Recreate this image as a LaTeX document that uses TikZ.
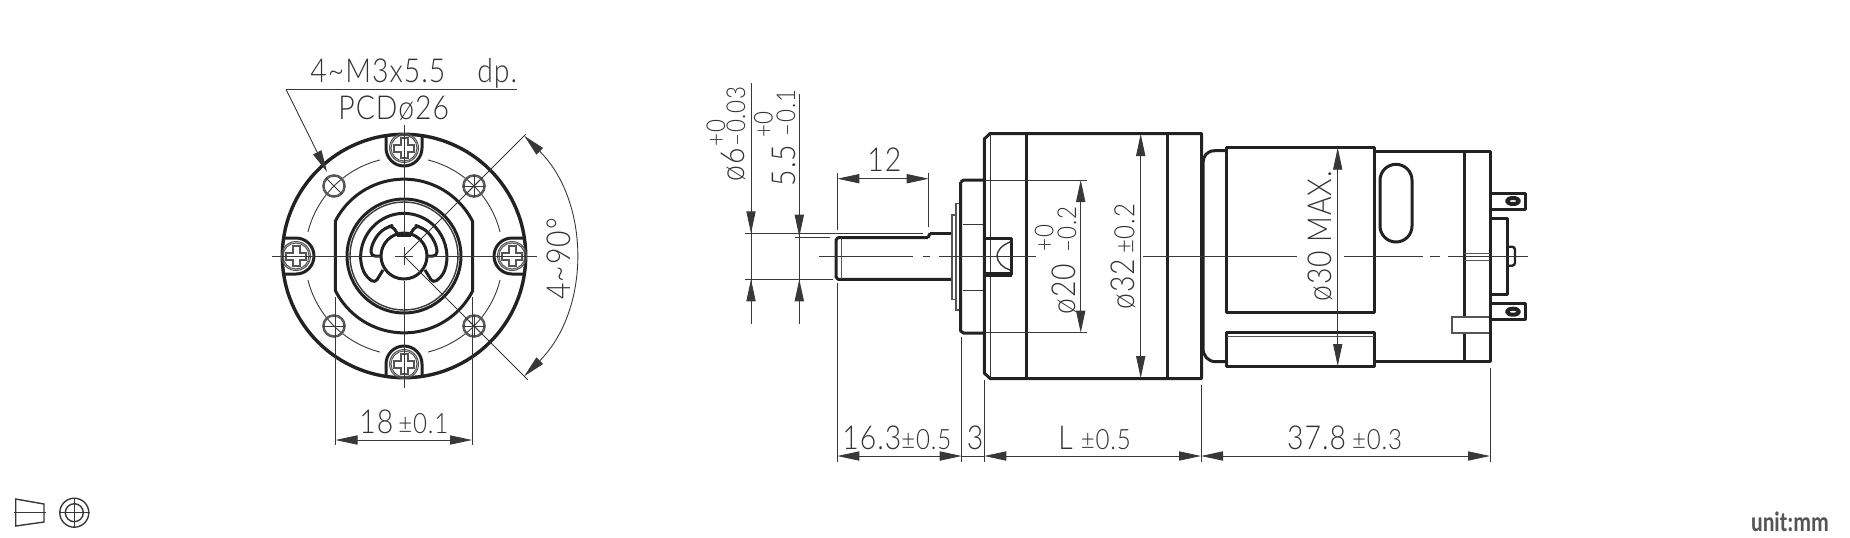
\documentclass[tikz,border=0pt]{standalone}
\usepackage{fontspec}
\usetikzlibrary{arrows.meta, calc}
\newfontfamily\cadfont[LetterSpace=3, FakeStretch=0.86]{Lato Light}
\newfontfamily\tolfont[LetterSpace=3, FakeStretch=0.86]{Lato Light}
\newfontfamily\unitfont{Carlito Bold}
\definecolor{inkline}{HTML}{222222}
\definecolor{inktext}{HTML}{333333}
\definecolor{inkgray}{HTML}{555555}
\newcommand{\tol}[1]{{\tolfont\fontsize{14}{14}\selectfont #1}}
\tikzset{
	dimtip/.tip={Triangle[length=11pt, width=4.6pt]},
	outl/.style={draw=inkline, line width=1.5pt, line join=round},
	thinl/.style={draw=inkline!90, line width=0.45pt},
	grayl/.style={draw=inkgray, line width=0.5pt},
	dimtext/.style={font=\cadfont\fontsize{16.5}{16.5}\selectfont, text=inktext, inner sep=0pt, anchor=base west},
	uptext/.style={dimtext, rotate=90},
	toltext/.style={dimtext, font=\cadfont\fontsize{13}{13}\selectfont},
	uptol/.style={toltext, rotate=90}
}
% screw head in its notch, on the rim at the given angle
\newcommand{\screwhead}[1]
{
	\begin{scope}[rotate=#1]
		\draw[outl] (-18,120.4) -- (-18,108) arc (180:360:18) -- (18,120.4);
		\draw[grayl] (0,108) circle (14.5) (0,108) circle (13);
		\draw[grayl, line width=1pt] (-3.5,118) -- (3.5,118) -- (3.5,111.5) -- (10,111.5) -- (10,104.5) -- (3.5,104.5) -- (3.5,98) -- (-3.5,98) -- (-3.5,104.5) -- (-10,104.5) -- (-10,111.5) -- (-3.5,111.5) -- cycle;
	\end{scope}
}
\begin{document}
\begin{tikzpicture}[x=0.5pt, y=0.5pt]
	\useasboundingbox (0,-537) rectangle (1850,0);
	% front view
	\begin{scope}[shift={(404,-256)}]
		\draw[outl, line width=1.7pt] (0,0) circle (121.7);
		\foreach \a in {0,90,180,270}
			\draw[thinl] (\a+14:99) arc (\a+14:\a+76:99);
		\foreach \a in {0,90,180,270}
			\screwhead{\a};
		\foreach \a in {45,135,225,315} {
			\draw[grayl, line width=0.8pt] (\a:99) circle (11);
			\draw[grayl] (\a:99) circle (9.8);
		};
		\foreach \a in {45,135,315}
			\draw[thinl] (\a:88) -- (\a:110);
		\foreach \a in {45,225,315}
			\draw[thinl] ($(\a:99)+(-11,0)$) -- ($(\a:99)+(11,0)$);
		\foreach \a in {45,315}
			\draw[thinl] ($(\a:99)+(0,-11)$) -- ($(\a:99)+(0,11)$);
		% flange with two flats
		\draw[outl] (-68.7,34.8) arc (153:27:77) -- (68.7,-34.8) arc (-27:-153:77) -- cycle;
		\draw[outl] (0,0) circle (57);
		\draw[thinl, line width=0.7pt] (0,0) circle (54);
		% clip and shaft
		\draw[outl, rounded corners=2pt] (-21,-14) -- (-29,-27) -- (-37,-21.4) arc (210:-30:42.7) -- (29,-27) -- (21,-14);
		\foreach \s in {1,-1}
			\draw[outl, xscale=\s, rounded corners=2pt] (-23,0) -- (-33,0) arc (180:118:33) -- (-12,30.5) -- (-7,23);
		\draw[outl] (0,0) circle (23);
		\draw[outl] (-7,21) -- (7,21);
		% centre lines
		\draw[thinl] (-132,0) -- (-23,0) (-9,0) -- (9,0) (23,0) -- (133,0);
		\draw[thinl] (0,131) -- (0,22) (0,-9) -- (0,9) (0,-25) -- (0,-132);
		% angle
		\draw[thinl] (0,0) -- (45:172);
		\draw[thinl] (0,0) -- (-45:175);
		\draw[thinl, dimtip-dimtip] (45:170) arc (45:-45:170);
		% width
		\draw[thinl] (-68.5,-41) -- (-68.5,-189);
		\draw[thinl] (68,-41) -- (68,-189);
		\draw[thinl, dimtip-dimtip] (-68.5,-184) -- (68,-184);
	\end{scope}
	\draw[thinl] (517.3,-89.3) -- (286,-89.3);
	\draw[thinl, -dimtip] (286,-89.3) -- (327,-172);
	\node[dimtext] (holes) at (310,-82.7) {4\textasciitilde M3x5.5\hspace{16pt}dp.};
	\node[dimtext] (pcd) at (338,-119) {PCDø26};
	\node[uptext] (angle) at (570,-300) {4\textasciitilde 90°};
	\node[dimtext] (width) at (359,-433) {18\hspace{2.5pt}\tol{±0.1}};
	% gearbox
	\draw[outl] (928,-237.7) -- (838,-237.7) -- (836,-240) -- (836,-277) -- (838,-279.3) -- (951.7,-279.3);
	\draw[outl] (930,-233.3) -- (951.7,-233.3);
	\draw[outl] (928,-237.7) -- (930,-233.3);
	\draw[grayl] (841.5,-238) -- (841.5,-279);
	\draw[grayl, line width=0.8pt] (952,-215) rectangle (956,-299.5);
	\draw[grayl, line width=0.8pt] (956,-203.5) rectangle (960.5,-310);
	\draw[outl] (960.7,-182) -- (963.5,-180) -- (984.3,-180);
	\draw[outl] (960.7,-182) -- (960.7,-331) -- (963.5,-333) -- (984.3,-333);
	\draw[thinl] (963,-224) -- (984.3,-224) (963,-290.7) -- (984.3,-290.7);
	\draw[outl] (984.3,-139) -- (990,-133.5) -- (1201.5,-133.5) -- (1201.5,-378.5) -- (990,-378.5) -- (984.3,-373) -- cycle;
	\draw[thinl] (990,-134) -- (990,-378);
	\draw[outl] (1026,-133.5) -- (1026,-378.5);
	\draw[outl] (1167.7,-133.5) -- (1167.7,-378.5);
	\draw[thinl] (985,-180) -- (1086.7,-180) (985,-332.7) -- (1086.7,-332.7);
	\draw[outl] (984.3,-238.3) -- (1011.7,-238.3) -- (1011.7,-274.3) -- (984.3,-274.3);
	\draw[outl, line width=2.2pt] (984.3,-274.3) -- (1011.7,-274.3);
	\draw[thinl, line width=0.7pt] (1010,-242) .. controls (1000,-246) and (997,-252) .. (997,-256) .. controls (997,-262) and (1003,-268) .. (1010,-270);
	% motor
	\draw[outl] (1226.7,-150.7) -- (1215,-150.7) .. controls (1207,-150.7) and (1203,-156) .. (1203,-163) -- (1203,-348) .. controls (1203,-356) and (1208,-361.7) .. (1216,-361.7) -- (1226.7,-361.7);
	\draw[outl] (1226.7,-147.7) rectangle (1374,-312.7);
	\draw[outl] (1226.7,-332) rectangle (1374,-366);
	\draw[grayl] (1227,-336.7) -- (1374,-336.7);
	\draw[outl] (1374,-151.7) -- (1490,-151.7) -- (1490,-361.7) -- (1374,-361.7);
	\draw[outl] (1464,-151.7) -- (1464,-316) (1464,-333) -- (1464,-361.7);
	\draw[grayl] (1464,-253.5) -- (1490,-253.5) (1464,-260) -- (1490,-260);
	\draw[grayl, line width=0.8pt] (1489,-316.7) -- (1451.7,-316.7) -- (1451.7,-332.7) -- (1489,-332.7);
	\draw[outl] (1380,-180.3) arc (180:0:16) -- (1412,-226) arc (360:180:16) -- cycle;
	% terminals
	\foreach \y in {0,110.7} {
		\draw[outl] (1491,-193-\y) -- (1525,-193-\y) -- (1525,-209-\y) -- (1491,-209-\y);
		\draw[outl, line width=2pt] (1513,-201-\y) ellipse (6 and 3);
	};
	\draw[outl] (1491,-218.3) -- (1507.3,-218.3) -- (1507.3,-294.3) -- (1491,-294.3);
	\draw[outl, line width=1.2pt, rounded corners=1.5pt] (1507.3,-246.7) -- (1515,-246.7) -- (1515,-265.7) -- (1507.3,-265.7);
	% centre line of the side view
	\draw[thinl] (819,-256) -- (913.3,-256) (922.7,-256) -- (930,-256) (939.3,-256) -- (1036,-256);
	\draw[thinl] (1143.3,-256) -- (1296.7,-256) (1344,-256) -- (1423.3,-256) (1430,-256) -- (1440,-256) (1448,-256) -- (1528.3,-256);
	% shaft dimensions
	\draw[thinl] (745,-233.3) -- (922.7,-233.3);
	\draw[thinl] (745,-279.3) -- (833.3,-279.3);
	\draw[thinl] (795,-237) -- (830,-237);
	\foreach \x/\ytop in {751/83, 799.3/94.3} {
		\draw[thinl] (\x,-\ytop) -- (\x,-324);
		\draw[thinl, -dimtip] (\x,-324) -- (\x,-279.3);
	};
	\draw[thinl, -dimtip] (751,-200) -- (751,-233.3);
	\draw[thinl, -dimtip] (799.3,-200) -- (799.3,-236.7);
	\node[uptext] (dsix) at (744.3,-181.7) {ø6};
	\node[uptol] (dsixplus) at (725,-146.7) {+0};
	\node[uptol] (dsixminus) at (745,-147) {–0.03};
	\node[uptext] (flat) at (795,-186.7) {5.5};
	\node[uptol] (flatplus) at (772.7,-138.3) {+0};
	\node[uptol] (flatminus) at (795,-136.7) {–0.1};
	\draw[thinl] (928.7,-173) -- (928.7,-226.7);
	\draw[thinl] (837.3,-173) -- (837.3,-230);
	\draw[thinl, dimtip-dimtip] (837.3,-178.7) -- (928.7,-178.7);
	\node[dimtext] (flatlen) at (867,-171.7) {12};
	% body dimensions
	\draw[thinl, dimtip-dimtip] (1080.7,-180) -- (1080.7,-332.7);
	\node[uptext] (dtwenty) at (1075,-315) {ø20};
	\node[uptol] (dtwentyplus) at (1053.3,-251.7) {+0};
	\node[uptol] (dtwentyminus) at (1076,-253.3) {–0.2};
	\draw[thinl, dimtip-dimtip] (1140.7,-134) -- (1140.7,-378);
	\node[uptext] (dbody) at (1134.3,-310) {ø32\hspace{2.5pt}\tol{±0.2}};
	\draw[thinl, dimtip-dimtip] (1337.7,-147.7) -- (1337.7,-366);
	\node[uptext] (dmotor) at (1331.7,-301.7) {ø30\hspace{4pt}MAX.};
	% length chain
	\foreach \x/\ytop in {837.3/283, 961.7/336.7, 984.3/380, 1201/385, 1490/368.3}
		\draw[thinl] (\x,-\ytop) -- (\x,-461.7);
	\draw[thinl, dimtip-dimtip] (837.3,-456) -- (961.7,-456);
	\draw[thinl] (961.7,-456) -- (984.3,-456);
	\draw[thinl, dimtip-dimtip] (984.3,-456) -- (1201,-456);
	\draw[thinl, dimtip-dimtip] (1201,-456) -- (1490,-456);
	\node[dimtext] (lenshaft) at (842,-449) {16.3\tol{±0.5}};
	\node[dimtext] (lenboss) at (966.5,-449) {3};
	\node[dimtext] (lenbox) at (1058,-449) {L\hspace{4pt}\tol{±0.5}};
	\node[dimtext] (lenmotor) at (1286.7,-449) {37.8\hspace{3pt}\tol{±0.3}};
	% projection symbol
	\draw[thinl, line width=0.7pt] (15.7,-499) -- (44,-504) -- (44,-522) -- (15.7,-526) -- cycle;
	\draw[thinl, line width=0.7pt] (14,-512.7) -- (45.7,-512.7);
	\draw[thinl, line width=0.7pt] (74.3,-512.7) circle (14.5) (74.3,-512.7) circle (9);
	\draw[thinl, line width=0.7pt] (59,-512.7) -- (89.6,-512.7) (74.3,-497.5) -- (74.3,-528);
	\node[font=\unitfont\fontsize{14}{14}\selectfont, text=inkgray, inner sep=0pt, anchor=base west, xscale=0.78] (unit) at (1750.7,-531.7) {unit:mm};
\end{tikzpicture}
\end{document}
